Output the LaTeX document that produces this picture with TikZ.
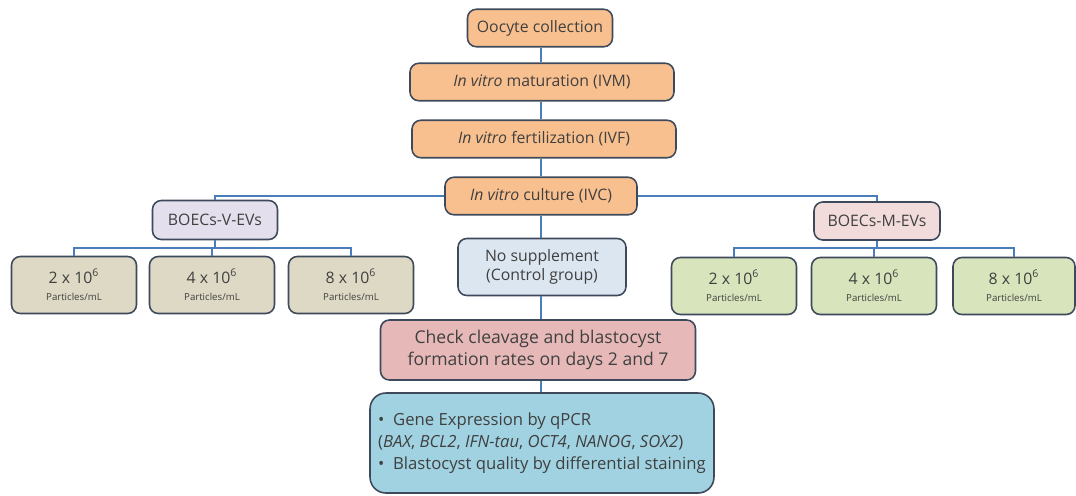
\documentclass[tikz,border=0pt]{standalone}
\usepackage{fontspec}
\setmainfont{Open Sans}
\usetikzlibrary{positioning}
\definecolor{boxline}{HTML}{3E4A5C}
\definecolor{linkblue}{HTML}{4A7EBB}
\definecolor{orangefill}{HTML}{F9C08F}
\definecolor{lavfill}{HTML}{E4DFEC}
\definecolor{pinkfill}{HTML}{F2DCDB}
\definecolor{tanfill}{HTML}{DDD9C4}
\definecolor{greenfill}{HTML}{D8E4BC}
\definecolor{ctrlfill}{HTML}{DCE6F1}
\definecolor{checkfill}{HTML}{E6B9B8}
\definecolor{genefill}{HTML}{A0D2E1}
\definecolor{txt}{HTML}{404040}
\newcommand{\dose}[1]{#1 x 10\textsuperscript{6}\\[-1pt]{\fontsize{5.5}{6}\selectfont Particles/mL}}

\begin{document}
\begin{tikzpicture}[x=0.02cm,y=-0.02cm]
  \tikzset{stepbox/.style={draw=boxline,line width=0.9pt,rounded corners=5pt,align=center,
      inner sep=0pt,text=txt,font=\fontsize{9}{11}\selectfont},
    mainstep/.style={stepbox,fill=orangefill,minimum height=0.75cm},
    dosebox/.style={stepbox,minimum width=2.5cm,minimum height=1.14cm},
    link/.style={draw=linkblue,line width=1.1pt}}
  \useasboundingbox (0,0) rectangle (1076,495);
  % main line
  \node[mainstep,minimum width=2.9cm] (oocyte) at (540,28) {Oocyte collection};
  \node[mainstep,minimum width=5.28cm] (ivm) at (542,82) {\textit{In vitro} maturation (IVM)};
  \node[mainstep,minimum width=5.28cm] (ivf) at (544,139) {\textit{In vitro} fertilization (IVF)};
  \node[mainstep,minimum width=3.84cm] (ivc) at (541,196) {\textit{In vitro} culture (IVC)};
  % groups
  \node[stepbox,fill=lavfill,minimum width=2.5cm,minimum height=0.78cm] (vev) at (215,220) {BOECs-V-EVs};
  \node[stepbox,fill=pinkfill,minimum width=2.52cm,minimum height=0.76cm] (mev) at (877,221) {BOECs-M-EVs};
  \node[dosebox,fill=tanfill] (v2) at (74,285) {\dose{2}};
  \node[dosebox,fill=tanfill] (v4) at (212,285) {\dose{4}};
  \node[dosebox,fill=tanfill] (v8) at (351,285) {\dose{8}};
  \node[dosebox,fill=greenfill] (m2) at (734,286) {\dose{2}};
  \node[dosebox,fill=greenfill] (m4) at (874,286) {\dose{4}};
  \node[dosebox,fill=greenfill,minimum width=2.44cm] (m8) at (1014,286) {\dose{8}};
  \node[stepbox,fill=ctrlfill,minimum width=3.36cm,minimum height=1.14cm] (ctrl) at (542,267)
    {No supplement\\(Control group)};
  % results
  \node[stepbox,fill=checkfill,minimum width=6.3cm,minimum height=1.2cm,
    font=\fontsize{10}{13}\selectfont] (check) at (538,350)
    {Check cleavage and blastocyst\\formation rates on days 2 and 7};
  \node[stepbox,fill=genefill,minimum width=6.88cm,minimum height=2cm,rounded corners=9pt,
    align=left,font=\fontsize{9.5}{12.6}\selectfont] (gene) at (542,443)
    {\textbullet\ \ Gene Expression by qPCR\\
     (\textit{BAX}, \textit{BCL2}, \textit{IFN-tau}, \textit{OCT4}, \textit{NANOG}, \textit{SOX2})\\
     \textbullet\ \ Blastocyst quality by differential staining};
  \coordinate (spine) at (541,0);
  \coordinate (vbus) at (215,248);
  \coordinate (mbus) at (877,248);
  \draw[link] (spine |- oocyte.south) -- (spine |- ivm.north);
  \draw[link] (spine |- ivm.south) -- (spine |- ivf.north);
  \draw[link] (spine |- ivf.south) -- (spine |- ivc.north);
  \draw[link] (spine |- ivc.south) -- (spine |- ctrl.north);
  \draw[link] (spine |- ctrl.south) -- (spine |- check.north);
  \draw[link] (spine |- check.south) -- (spine |- gene.north);
  \draw[link] (ivc.west) -| (vev.north);
  \draw[link] (ivc.east) -| (mev.north);
  \draw[link] (vev.south) -- (vbus);
  \draw[link] (v2.north) |- (vbus) -| (v8.north);
  \draw[link] (v4.north) -- (v4.north |- vbus);
  \draw[link] (mev.south) -- (mbus);
  \draw[link] (m2.north) |- (mbus) -| (m8.north);
  \draw[link] (m4.north) -- (m4.north |- mbus);
\end{tikzpicture}
\end{document}
